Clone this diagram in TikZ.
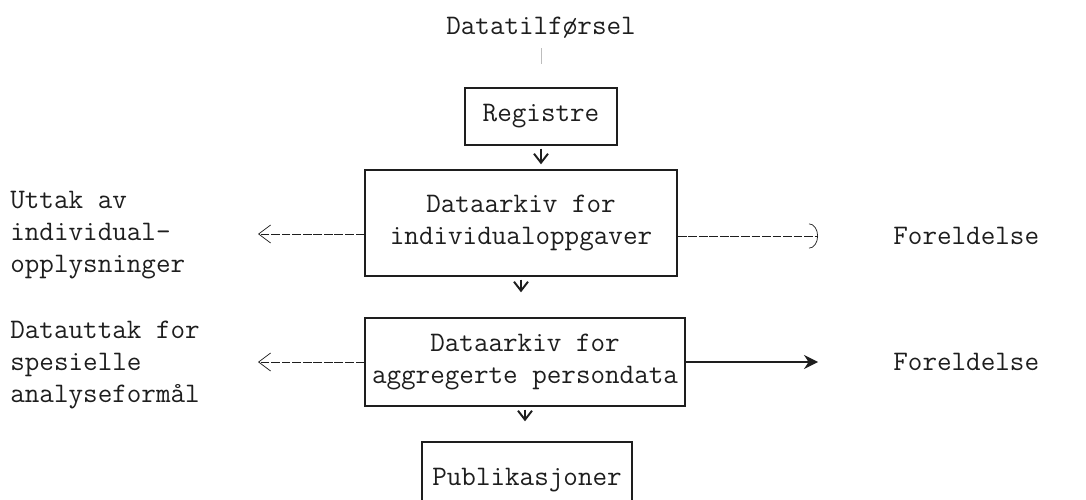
\documentclass[tikz,border=0pt]{standalone}
\usepackage{fontspec}
\usepackage{tikz}
\usetikzlibrary{arrows.meta,positioning,calc}
\definecolor{ink}{HTML}{1E1E1E}
\definecolor{faint}{HTML}{BDBDBD}
\tikzset{
  txt/.style={font=\ttfamily\fontsize{16.1}{18}\selectfont, text=ink, inner sep=0pt},
  lbl/.style={txt, align=left, anchor=west},
  boxn/.style={txt, draw=ink, line width=.8pt, align=center},
  dn/.style={-{Straight Barb[length=1.8mm, width=2.8mm, line width=1.1pt]}, line width=.7pt, draw=ink},
  lft/.style={-{Straight Barb[length=2.4mm, width=3.6mm]}, line width=.4pt, draw=ink, dash pattern=on 5pt off 1pt},
  rgtd/.style={-{Arc Barb[length=1.8mm, width=5mm]}, line width=.4pt, draw=ink, dash pattern=on 5pt off 1pt},
  rgts/.style={-{Stealth[length=2.8mm, width=2.8mm]}, line width=.9pt, draw=ink},
}
\begin{document}
\begin{tikzpicture}
  \useasboundingbox (0,0) rectangle (21.72,9.98);
  % midtkolonne
  \node[txt] (src) at (10.82,9.42) {Datatilførsel};
  \node[boxn, minimum width=3.04cm, minimum height=1.14cm] (reg) at (10.82,7.65) {Registre};
  \node[boxn, minimum width=6.24cm, minimum height=2.12cm] (ark1) at (10.42,5.52) {Dataarkiv for\\individualoppgaver};
  \node[boxn, minimum width=6.4cm, minimum height=1.76cm] (ark2) at (10.5,2.74) {Dataarkiv for\\aggregerte persondata};
  \node[boxn, minimum width=4.2cm, minimum height=1.52cm] (pub) at (10.54,0.38) {Publikasjoner};
  % sidetekster
  \node[lbl] (uttak) at (0.2,5.28) {Uttak av\\individual-\\opplysninger};
  \node[lbl] (spes) at (0.2,2.68) {Datauttak for\\spesielle\\analyseformål};
  \node[lbl] (forel1) at (17.86,5.26) {Foreldelse};
  \node[lbl] (forel2) at (17.86,2.74) {Foreldelse};
  \coordinate (uttakpil) at (5.16,5.30);
  \coordinate (spespil) at (5.16,2.74);
  % piler
  \draw[faint, line width=.4pt, shorten <=.18cm, shorten >=.46cm] (src.south) -- (reg.north);
  \draw[dn, shorten <=.6mm, shorten >=1mm] (reg.south) -- (reg.south |- ark1.north);
  \draw[dn, shorten <=.6mm, shorten >=5mm] (ark1.south) -- (ark1.south |- ark2.north);
  \draw[dn, shorten <=.6mm, shorten >=4mm] (ark2.south) -- (ark2.south |- pub.north);
  \draw[lft] (ark1.west |- uttakpil) -- (uttakpil);
  \draw[lft] (ark2.west |- spespil) -- (spespil);
  \draw[rgtd, shorten >=1.5cm] (ark1.east |- forel1.west) -- (forel1.west);
  \draw[rgts, shorten >=1.5cm] (ark2.east |- forel2.west) -- (forel2.west);
\end{tikzpicture}
\end{document}
